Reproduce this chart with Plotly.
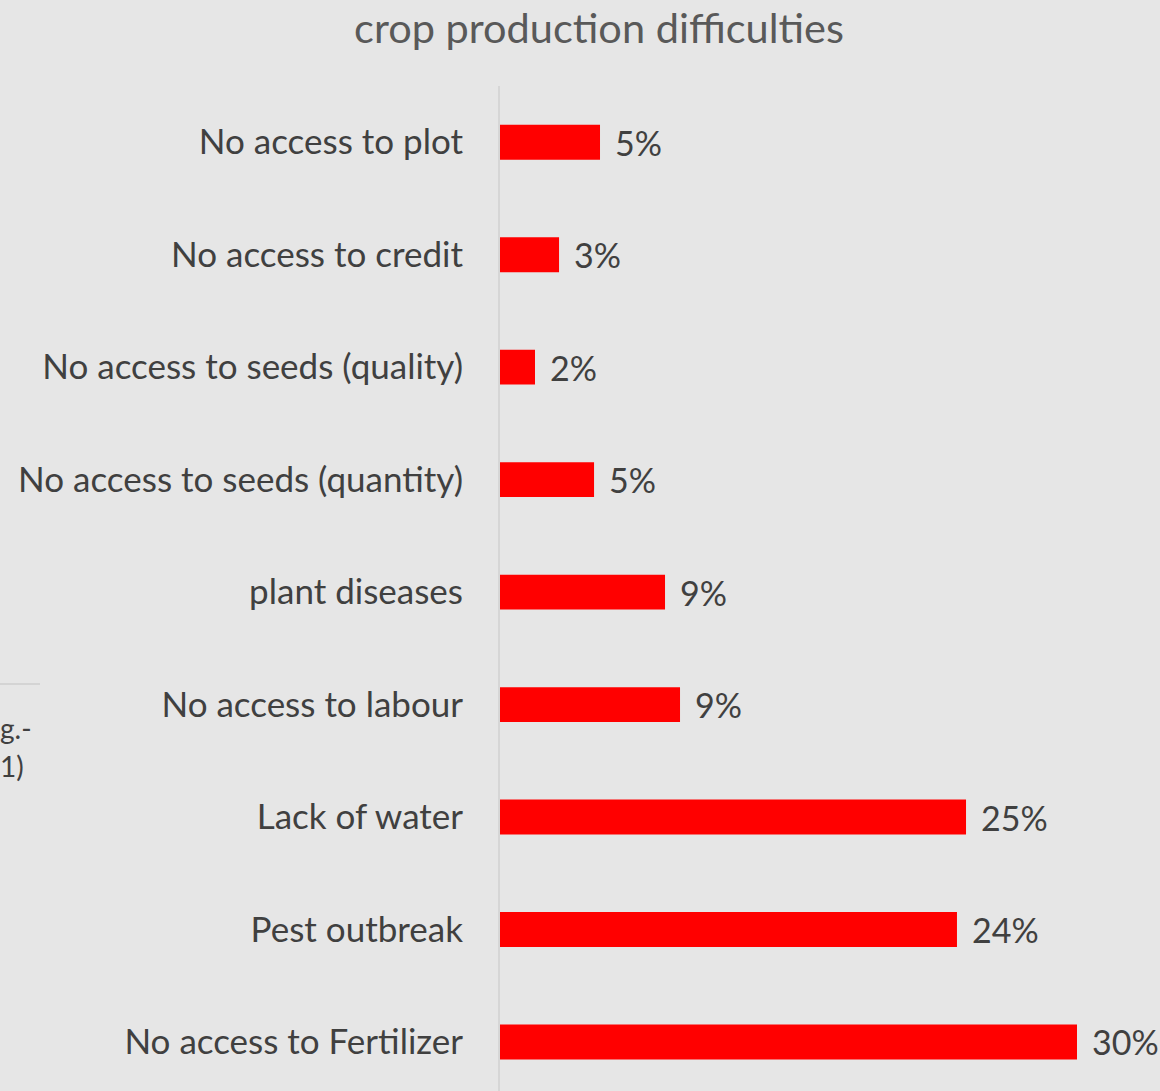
import plotly.graph_objects as go

categories = [
    "No access to Fertilizer",
    "Pest outbreak",
    "Lack of water",
    "No access to labour",
    "plant diseases",
    "No access to seeds (quantity)",
    "No access to seeds (quality)",
    "No access to credit",
    "No access to plot",
]
values = [30.0, 23.76, 24.23, 9.36, 8.58, 4.89, 1.82, 3.07, 5.2]
labels = ["30%", "24%", "25%", "9%", "9%", "5%", "2%", "3%", "5%"]

W, H = 1160, 1091
L, T = 500, 86
FONT = "Lato"

fig = go.Figure()
fig.add_trace(go.Bar(
    y=categories, x=values, orientation="h",
    marker=dict(color="#ff0000", line=dict(width=0)),
    width=0.31, hoverinfo="skip",
))

for c, v, t in zip(categories, values, labels):
    fig.add_annotation(x=v, y=c, xref="x", yref="y", text=t, showarrow=False,
                       xanchor="left", yanchor="middle", xshift=13,
                       font=dict(family=FONT, size=34, color="#404040"))

pw = W - L
ph = H - T
# cropped fragments on the left edge
fig.add_shape(type="line", xref="paper", yref="paper",
              x0=(0 - L) / pw, x1=(40 - L) / pw,
              y0=(H - 684) / ph, y1=(H - 684) / ph,
              line=dict(color="#d4d4d4", width=2))
fig.add_annotation(xref="paper", yref="paper", x=(0 - L) / pw, y=(H - 728) / ph,
                   text="g.-", showarrow=False, xanchor="left", yanchor="middle",
                   xshift=-2, font=dict(family=FONT, size=28, color="#404040"))
fig.add_annotation(xref="paper", yref="paper", x=(0 - L) / pw, y=(H - 766) / ph,
                   text="1)", showarrow=False, xanchor="left", yanchor="middle",
                   xshift=-2, font=dict(family=FONT, size=28, color="#404040"))

fig.update_layout(
    width=W, height=H,
    margin=dict(l=L, r=0, t=T, b=0, pad=0),
    paper_bgcolor="#e6e6e6", plot_bgcolor="#e6e6e6",
    showlegend=False,
    title=dict(text="crop production difficulties", x=599 / W, xanchor="center",
               y=1 - 28 / H, yanchor="middle", yref="container",
               font=dict(family=FONT, size=41.5, color="#595959")),
    font=dict(family=FONT, color="#404040"),
)
fig.update_xaxes(range=[0, 30 * pw / 577], visible=False, showgrid=False, zeroline=False)
fig.update_yaxes(range=[-0.436, 8.5], showline=True, linecolor="#d6d6d6", linewidth=2,
                 showgrid=False, zeroline=False, ticks="outside", ticklen=0,
                 tickcolor="rgba(0,0,0,0)", ticklabelstandoff=28,
                 tickfont=dict(family=FONT, size=35, color="#404040"))

fig.write_html("out.html",
               config={"displayModeBar": False},
               post_script="document.body.style.margin='0';"
                           "document.body.style.background='#e6e6e6';")
